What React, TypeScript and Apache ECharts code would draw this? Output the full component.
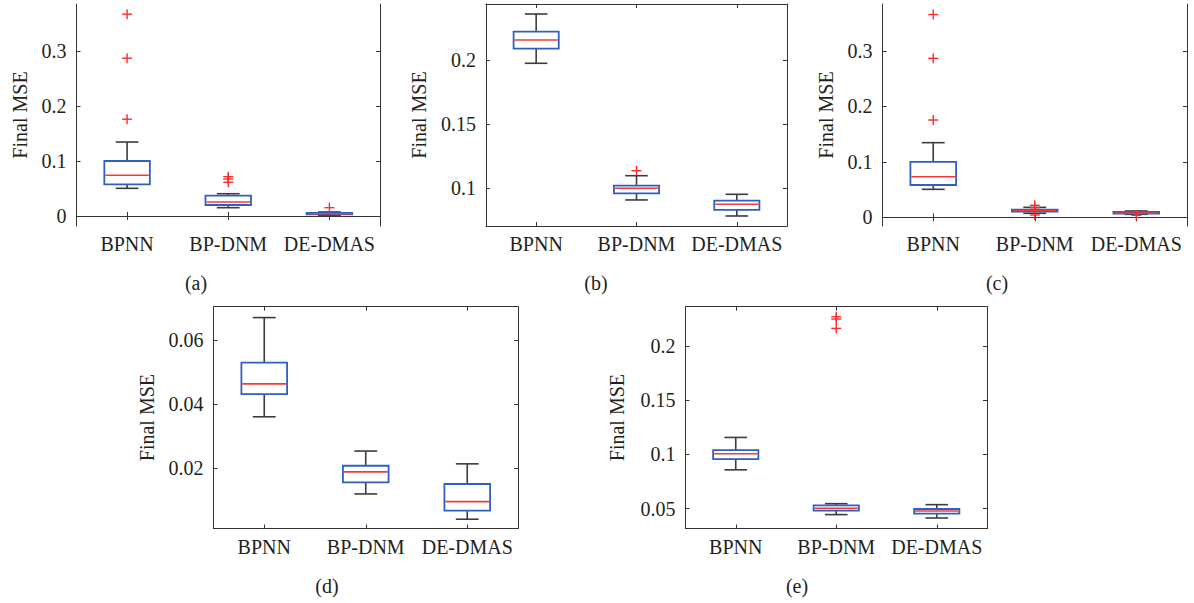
import React, { useEffect, useRef } from "react";
import * as echarts from "echarts";

// ---------- data ----------
const categories = ["BPNN", "BP-DNM", "DE-DMAS"];
const yAxisTitle = "Final MSE";
const captions = ["(a)", "(b)", "(c)", "(d)", "(e)"];

// each row: [category index, lower whisker, Q1, median, Q3, upper whisker]
const boxesA = [
  [0, 0.0503, 0.0576, 0.074, 0.1, 0.1345],
  [1, 0.0151, 0.02, 0.0255, 0.0369, 0.0405],
  [2, 0.0005, 0.0031, 0.0042, 0.0055, 0.0073],
];
const outliersA = [
  [0, 0.367], [0, 0.287], [0, 0.176],
  [1, 0.0715], [1, 0.0673], [1, 0.0613],
  [2, 0.0151],
];

const boxesB = [
  [0, 0.1974, 0.2088, 0.2156, 0.222, 0.2358],
  [1, 0.0909, 0.0961, 0.1, 0.102, 0.1098],
  [2, 0.0784, 0.0831, 0.0875, 0.0903, 0.0953],
];
const outliersB = [[1, 0.1137]];

const boxesC = [
  [0, 0.0505, 0.0583, 0.0733, 0.1, 0.1347],
  [1, 0.0072, 0.0105, 0.0123, 0.014, 0.018],
  [2, 0.0054, 0.0065, 0.0078, 0.0096, 0.0114],
];
const outliersC = [
  [0, 0.366], [0, 0.287], [0, 0.1756],
  [1, 0.0217], [1, 0.0173], [1, 0.0042],
  [2, 0.0036],
];

const boxesD = [
  [0, 0.036, 0.0431, 0.0463, 0.0529, 0.067],
  [1, 0.0119, 0.0155, 0.0188, 0.0207, 0.0253],
  [2, 0.004, 0.0067, 0.0095, 0.015, 0.0213],
];
const outliersD: number[][] = [];

const boxesE = [
  [0, 0.0858, 0.0957, 0.1006, 0.104, 0.1157],
  [1, 0.0445, 0.0482, 0.0504, 0.0531, 0.0546],
  [2, 0.0414, 0.0454, 0.0479, 0.0497, 0.0537],
];
const outliersE = [[1, 0.227], [1, 0.2249], [1, 0.2163]];

// axis ranges and tick values
const yMinA = -0.0182, yMaxA = 0.3855;
const yMinB = 0.0706, yMaxB = 0.2436;
const yMinC = -0.0157, yMaxC = 0.385;
const yMinD = 0.0011, yMaxD = 0.0704;
const yMinE = 0.0317, yMaxE = 0.2363;
const ticksA = [0, 0.1, 0.2, 0.3];
const ticksB = [0.1, 0.15, 0.2];
const ticksC = [0, 0.1, 0.2, 0.3];
const ticksD = [0.02, 0.04, 0.06];
const ticksE = [0.05, 0.1, 0.15, 0.2];

// ---------- layout ----------
const panels = [
  { boxes: boxesA, outliers: outliersA, min: yMinA, max: yMaxA, ticks: ticksA,
    grid: { left: 76.5, top: 4, width: 303.5, height: 222 }, nameGap: 47, cap: [196, 283] },
  { boxes: boxesB, outliers: outliersB, min: yMinB, max: yMaxB, ticks: ticksB,
    grid: { left: 486, top: 4, width: 301, height: 222 }, nameGap: 57, cap: [596, 283] },
  { boxes: boxesC, outliers: outliersC, min: yMinC, max: yMaxC, ticks: ticksC,
    grid: { left: 882.5, top: 4, width: 304.5, height: 222 }, nameGap: 46.5, cap: [997, 283] },
  { boxes: boxesD, outliers: outliersD, min: yMinD, max: yMaxD, ticks: ticksD,
    grid: { left: 213.5, top: 306.7, width: 304.5, height: 221.8 }, nameGap: 56.5, cap: [327, 586] },
  { boxes: boxesE, outliers: outliersE, min: yMinE, max: yMaxE, ticks: ticksE,
    grid: { left: 685.5, top: 306.7, width: 301.5, height: 221.8 }, nameGap: 58.5, cap: [797, 586] },
];

const FONT = '"Liberation Serif", "Times New Roman", serif';
const TEXT = "#231f20";
const AXIS = "#333333";
const BOX = "#2f5fbf";
const MED = "#f03a3a";
const WHISK = "#3c3c3c";
const OUT = "#ff2a2a";

function renderBox(params: any, api: any) {
  const c = api.value(0);
  const pLo = api.coord([c, api.value(1)]);
  const pQ1 = api.coord([c, api.value(2)]);
  const pMed = api.coord([c, api.value(3)]);
  const pQ3 = api.coord([c, api.value(4)]);
  const pHi = api.coord([c, api.value(5)]);
  const bw = api.size([1, 0])[0] * 0.45;
  const x = pLo[0];
  const cw = bw / 2;
  const ws = { stroke: WHISK, lineWidth: 1.6 };
  return {
    type: "group",
    children: [
      { type: "line", shape: { x1: x, y1: pHi[1], x2: x, y2: pQ3[1] }, style: ws },
      { type: "line", shape: { x1: x, y1: pQ1[1], x2: x, y2: pLo[1] }, style: ws },
      { type: "line", shape: { x1: x - cw / 2, y1: pHi[1], x2: x + cw / 2, y2: pHi[1] }, style: ws },
      { type: "line", shape: { x1: x - cw / 2, y1: pLo[1], x2: x + cw / 2, y2: pLo[1] }, style: ws },
      {
        type: "rect",
        shape: { x: x - bw / 2, y: pQ3[1], width: bw, height: pQ1[1] - pQ3[1] },
        style: { fill: "none", stroke: BOX, lineWidth: 1.8 },
      },
      {
        type: "line",
        shape: { x1: x - bw / 2 + 1, y1: pMed[1], x2: x + bw / 2 - 1, y2: pMed[1] },
        style: { stroke: MED, lineWidth: 1.6 },
      },
    ],
  };
}

function renderOutlier(params: any, api: any) {
  const p = api.coord([api.value(0), api.value(1)]);
  const s = 5;
  const st = { stroke: OUT, lineWidth: 1.4 };
  return {
    type: "group",
    children: [
      { type: "line", shape: { x1: p[0] - s, y1: p[1], x2: p[0] + s, y2: p[1] }, style: st },
      { type: "line", shape: { x1: p[0], y1: p[1] - s, x2: p[0], y2: p[1] + s }, style: st },
    ],
  };
}

function buildOption() {
  const grid: any[] = [];
  const xAxis: any[] = [];
  const yAxis: any[] = [];
  const series: any[] = [];
  const graphic: any[] = [];

  panels.forEach((p, i) => {
    grid.push({ ...p.grid, containLabel: false });
    const lineStyle = { color: AXIS, width: 1 };
    xAxis.push({
      type: "category", gridIndex: i, data: categories, position: "bottom",
      axisLine: { show: true, lineStyle },
      axisTick: { show: true, inside: true, length: 4, alignWithLabel: true, interval: 0, lineStyle },
      axisLabel: { show: true, interval: 0, fontFamily: FONT, fontSize: 20, color: TEXT, margin: 8 },
      splitLine: { show: false },
    });
    xAxis.push({
      type: "category", gridIndex: i, data: categories, position: "top",
      axisLine: { show: true, lineStyle },
      axisTick: { show: true, inside: true, length: 4, alignWithLabel: true, interval: 0, lineStyle },
      axisLabel: { show: false },
      splitLine: { show: false },
    });
    yAxis.push({
      type: "value", gridIndex: i, position: "left", min: p.min, max: p.max,
      name: yAxisTitle, nameLocation: "middle", nameGap: p.nameGap,
      nameTextStyle: { fontFamily: FONT, fontSize: 20, color: TEXT },
      axisLine: { show: true, lineStyle },
      axisTick: { show: true, inside: true, length: 4, lineStyle, customValues: p.ticks },
      axisLabel: {
        show: true, fontFamily: FONT, fontSize: 20, color: TEXT, margin: 10,
        customValues: p.ticks, formatter: (v: number) => String(parseFloat(Number(v).toFixed(4))),
      },
      splitLine: { show: false },
    });
    yAxis.push({
      type: "value", gridIndex: i, position: "right", min: p.min, max: p.max,
      axisLine: { show: true, lineStyle },
      axisTick: { show: true, inside: true, length: 4, lineStyle, customValues: p.ticks },
      axisLabel: { show: false },
      splitLine: { show: false },
    });

    series.push({
      type: "custom", xAxisIndex: 2 * i, yAxisIndex: 2 * i,
      renderItem: renderBox, data: p.boxes,
      encode: { x: 0, y: [1, 2, 3, 4, 5] }, clip: false, silent: true,
    });
    if (p.outliers.length) {
      series.push({
        type: "custom", xAxisIndex: 2 * i, yAxisIndex: 2 * i,
        renderItem: renderOutlier, data: p.outliers,
        encode: { x: 0, y: 1 }, clip: false, silent: true,
      });
    }
    graphic.push({
      type: "text", x: p.cap[0], y: p.cap[1],
      style: { text: captions[i], fontFamily: FONT, fontSize: 20, fill: TEXT, align: "center", verticalAlign: "middle" },
    });
  });

  return { animation: false, backgroundColor: "#ffffff", grid, xAxis, yAxis, series, graphic };
}

export default function App() {
  const ref = useRef<HTMLDivElement>(null);
  useEffect(() => {
    if (!ref.current) return;
    const chart = echarts.init(ref.current, undefined, { renderer: "svg" });
    chart.setOption(buildOption() as any);
    return () => chart.dispose();
  }, []);
  return (
    <div
      ref={ref}
      style={{ position: "fixed", left: 0, top: 0, width: 1194, height: 603, background: "#fff" }}
    />
  );
}
